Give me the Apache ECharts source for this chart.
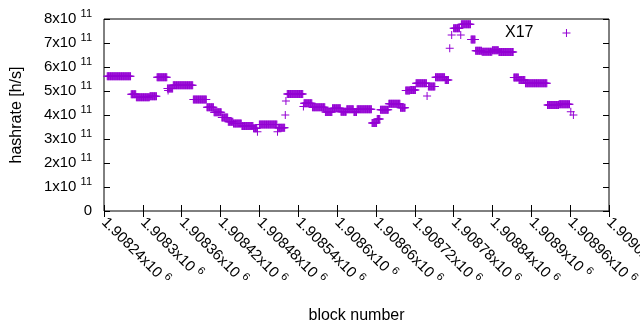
<!DOCTYPE html>
<html>
<head>
<meta charset="utf-8">
<script src="https://cdn.jsdelivr.net/npm/echarts@6/dist/echarts.min.js"></script>
<style>
  html, body { margin: 0; padding: 0; background: #fff; }
  #chart { width: 640px; height: 330px; }
</style>
</head>
<body>
<div id="chart"></div>
<script>
  // runs of blocks with the same hashrate estimate
  const segStart = [1908245, 1908282, 1908290, 1908311, 1908322, 1908338, 1908347, 1908378, 1908399, 1908410,
    1908422, 1908432, 1908440, 1908453, 1908471, 1908480, 1908509, 1908523, 1908549, 1908562,
    1908582, 1908593, 1908606, 1908615, 1908626, 1908631, 1908654, 1908662, 1908667, 1908680,
    1908698, 1908706, 1908713, 1908722, 1908741, 1908752, 1908767, 1908780, 1908792, 1908807,
    1908814, 1908824, 1908840, 1908850, 1908873, 1908881, 1908891, 1908925, 1908943];
  const segEnd = [1908281, 1908289, 1908310, 1908321, 1908337, 1908346, 1908377, 1908398, 1908409, 1908421,
    1908431, 1908439, 1908452, 1908470, 1908476, 1908507, 1908519, 1908547, 1908561, 1908581,
    1908592, 1908605, 1908614, 1908625, 1908630, 1908653, 1908661, 1908666, 1908679, 1908697,
    1908705, 1908712, 1908721, 1908738, 1908751, 1908766, 1908772, 1908789, 1908806, 1908813,
    1908823, 1908839, 1908849, 1908872, 1908880, 1908890, 1908924, 1908942, 1908959];
  const segValue = [5.61e11, 4.86e11, 4.74e11, 4.78e11, 5.57e11, 5.10e11, 5.24e11, 4.65e11, 4.32e11, 4.11e11,
    3.90e11, 3.72e11, 3.65e11, 3.54e11, 3.45e11, 3.60e11, 3.47e11, 4.88e11, 4.49e11, 4.32e11,
    4.12e11, 4.28e11, 4.14e11, 4.24e11, 4.12e11, 4.24e11, 3.67e11, 3.83e11, 4.22e11, 4.47e11,
    4.30e11, 5.02e11, 5.04e11, 5.32e11, 5.19e11, 5.57e11, 5.46e11, 7.61e11, 7.78e11, 7.15e11,
    6.68e11, 6.64e11, 6.70e11, 6.62e11, 5.56e11, 5.46e11, 5.32e11, 4.42e11, 4.45e11];

  // stray single blocks
  const singleBlock = [1908339, 1908477, 1908508, 1908520, 1908521, 1908548, 1908739, 1908774, 1908777, 1908791, 1908961, 1908965];
  const singleValue = [5.02e11, 3.30e11, 3.30e11, 4.00e11, 4.58e11, 4.35e11, 4.79e11, 6.78e11, 7.33e11, 7.33e11, 4.14e11, 4.00e11];

  const xMin = 1908240, xMax = 1909020, xStep = 60;
  const yMin = 0, yMax = 8e11, yStep = 1e11;

  var points = [];
  for (var i = 0; i < segStart.length; i++) {
    for (var b = segStart[i]; b <= segEnd[i]; b++) {
      points.push([b, segValue[i]]);
    }
  }
  for (var j = 0; j < singleBlock.length; j++) {
    points.push([singleBlock[j], singleValue[j]]);
  }

  const font = 'Liberation Sans, Arial, sans-serif';
  const supRich = {
    b: { fontSize: 15, fontFamily: font, color: '#000', lineHeight: 15, padding: [3, 0, 3, 0] },
    s: { fontSize: 11, fontFamily: font, color: '#000', lineHeight: 11, padding: [0, 0, 10, 0] }
  };

  const myChart = echarts.init(document.getElementById('chart'));
  myChart.setOption({
    animation: false,
    textStyle: { fontFamily: font },
    legend: {
      data: ['X17'],
      left: 505,
      top: 25,
      align: 'right',
      padding: 0,
      itemWidth: 8,
      itemHeight: 8,
      selectedMode: false,
      textStyle: { fontSize: 16, color: '#000', fontFamily: font, padding: [0, 24, 0, 0] }
    },
    grid: {
      left: 104,
      right: 31,
      top: 19,
      bottom: 119,
      show: true,
      borderColor: '#000',
      borderWidth: 1,
      outerBoundsMode: 'none'
    },
    xAxis: [{
      type: 'value',
      position: 'bottom',
      min: xMin,
      max: xMax,
      interval: xStep,
      axisLine: { show: false },
      splitLine: { show: false },
      axisTick: { inside: true, length: 6, lineStyle: { color: '#000' } },
      axisLabel: {
        rotate: -45,
        margin: 9,
        rich: supRich,
        formatter: function (v) {
          var m = parseFloat((v / 1e6).toFixed(5)).toString();
          return '{b|' + m + 'x10 }{s|6}';
        }
      },
      name: 'block number',
      nameLocation: 'middle',
      nameGap: 97,
      nameMoveOverlap: false,
      nameTextStyle: { fontSize: 16, color: '#000', fontFamily: font }
    }, {
      type: 'value',
      position: 'top',
      min: xMin,
      max: xMax,
      interval: xStep,
      axisLine: { show: false },
      splitLine: { show: false },
      axisLabel: { show: false },
      axisTick: { inside: true, length: 6, lineStyle: { color: '#000' } }
    }],
    yAxis: [{
      type: 'value',
      position: 'left',
      min: yMin,
      max: yMax,
      interval: yStep,
      axisLine: { show: false },
      splitLine: { show: false },
      axisTick: { inside: true, length: 6, lineStyle: { color: '#000' } },
      axisLabel: {
        margin: 12,
        rich: supRich,
        formatter: function (v) {
          if (v === 0) return '{b|0}';
          return '{b|' + Math.round(v / 1e11) + 'x10 }{s|11}';
        }
      },
      name: 'hashrate [h/s]',
      nameLocation: 'middle',
      nameGap: 79,
      nameMoveOverlap: false,
      nameTextStyle: { fontSize: 16, color: '#000', fontFamily: font }
    }, {
      type: 'value',
      position: 'right',
      min: yMin,
      max: yMax,
      interval: yStep,
      axisLine: { show: false },
      splitLine: { show: false },
      axisLabel: { show: false },
      axisTick: { inside: true, length: 6, lineStyle: { color: '#000' } }
    }],
    series: [{
      name: 'X17',
      type: 'scatter',
      xAxisIndex: 0,
      yAxisIndex: 0,
      symbol: 'path://M0,3.5 H8 V4.5 H0 Z M3.5,0 H4.5 V8 H3.5 Z',
      symbolSize: 8,
      itemStyle: { color: '#9400d3', opacity: 1 },
      data: points
    }]
  });
  window.addEventListener('resize', () => {
    myChart.resize();
  });
</script>
</body>
</html>
